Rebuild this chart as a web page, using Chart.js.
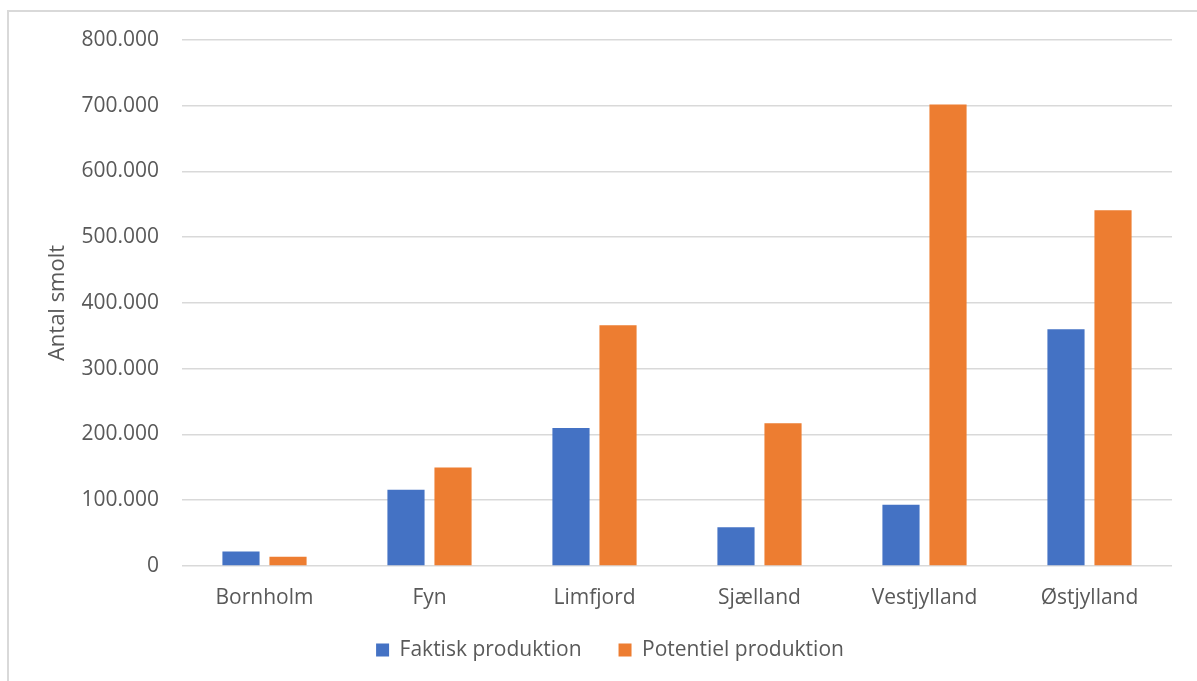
<!DOCTYPE html>
<html lang="da">
<head>
<meta charset="utf-8">
<title>Antal smolt</title>
<script src="https://cdn.jsdelivr.net/npm/chart.js@4/dist/chart.umd.min.js"></script>
<style>
  html, body { margin: 0; padding: 0; background: #ffffff; }
  #wrap { position: relative; width: 1197px; height: 681px; overflow: hidden; }
  #frame {
    position: absolute; left: 7px; top: 10px; width: 1300px; height: 800px;
    border-left: 2px solid #d9d9d9; border-top: 2px solid #d9d9d9; box-sizing: border-box;
  }
  canvas { position: absolute; left: 0; top: 0; }
</style>
</head>
<body>
<div id="wrap">
  <div id="frame"></div>
  <canvas id="chart" width="1197" height="681"></canvas>
</div>
<script>
// Regions and smolt counts
const categories = ['Bornholm', 'Fyn', 'Limfjord', 'Sjælland', 'Vestjylland', 'Østjylland'];
const faktiskProduktion = [22000, 116000, 210000, 59000, 93000, 360000];
const potentielProduktion = [14000, 150000, 366000, 217000, 702000, 541000];
const yTicks = [0, 100000, 200000, 300000, 400000, 500000, 600000, 700000, 800000];

const seriesNames = ['Faktisk produktion', 'Potentiel produktion'];
const seriesColors = ['#4472C4', '#ED7D31'];
const axisTitle = 'Antal smolt';

const textColor = '#595959';
const gridColor = '#d9d9d9';
const fontFamily = '"Open Sans", "Noto Sans", sans-serif';

// Danish thousands separator: 800000 -> "800.000"
function formatDa(v) {
  return String(Math.round(v)).replace(/\B(?=(\d{3})+(?!\d))/g, '.');
}

// The legend's item spacing also sets its inner top padding; nudge the
// finished legend box so the row sits closer under the category labels.
const legendNudge = {
  id: 'legendNudge',
  afterLayout(chart) {
    const lg = chart.legend;
    if (!lg) return;
    lg.top -= 8.5; lg.bottom -= 8.5;
    lg.left += 14; lg.right += 14;
  }
};

new Chart(document.getElementById('chart'), {
  type: 'bar',
  data: {
    labels: categories,
    datasets: [
      { label: seriesNames[0], data: faktiskProduktion, backgroundColor: seriesColors[0], borderWidth: 0 },
      { label: seriesNames[1], data: potentielProduktion, backgroundColor: seriesColors[1], borderWidth: 0 }
    ]
  },
  plugins: [legendNudge],
  options: {
    responsive: false,
    animation: false,
    events: [],
    datasets: { bar: { categoryPercentage: 0.57, barPercentage: 0.79 } },
    layout: { padding: { left: 20, right: 25, top: 40, bottom: 10 } },
    plugins: {
      tooltip: { enabled: false },
      legend: {
        position: 'bottom',
        maxHeight: 60,
        labels: {
          color: textColor,
          font: { family: fontFamily, size: 21 },
          boxWidth: 13,
          boxHeight: 13,
          padding: 37
        }
      }
    },
    scales: {
      x: {
        afterFit(scale) {
          scale.height = 45;
        },
        grid: { display: false, drawTicks: false },
        border: { display: false },
        ticks: {
          color: textColor,
          font: { family: fontFamily, size: 21 },
          padding: 19.5,
          maxRotation: 0
        }
      },
      y: {
        min: 0,
        max: 800000,
        afterBuildTicks(scale) {
          scale.ticks = yTicks.map(v => ({ value: v }));
        },
        afterFit(scale) {
          scale.width = 162;
        },
        grid: { color: gridColor, lineWidth: 1.6, drawTicks: false },
        border: { display: false },
        ticks: {
          color: textColor,
          font: { family: fontFamily, size: 21 },
          padding: 23,
          callback: v => formatDa(v)
        },
        title: {
          display: true,
          text: axisTitle,
          color: textColor,
          font: { family: fontFamily, size: 22 },
          padding: { top: 25, bottom: 0 }
        }
      }
    }
  }
});
</script>
</body>
</html>
